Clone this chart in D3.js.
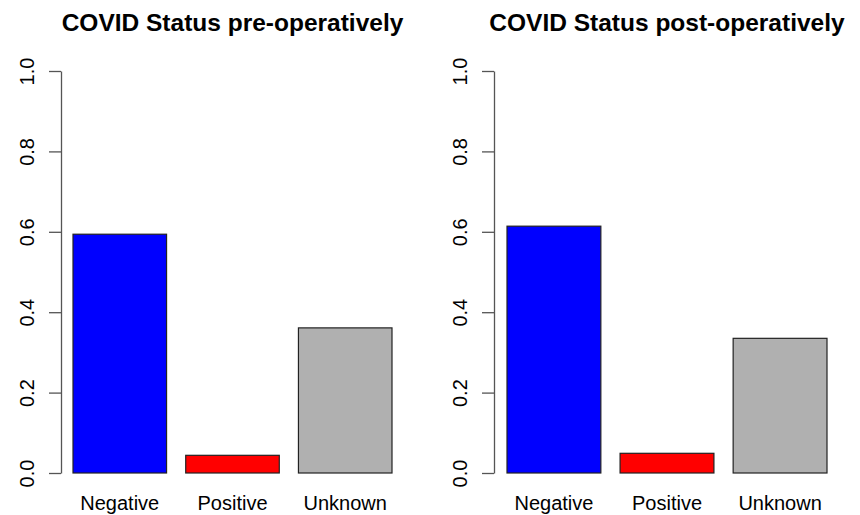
<!DOCTYPE html>
<html>
<head>
<meta charset="utf-8">
<script src="https://cdn.jsdelivr.net/npm/d3@7"></script>
<style>
  html, body { margin: 0; padding: 0; background: #fff; }
  svg { display: block; }
  text { font-family: "Liberation Sans", Arial, Helvetica, sans-serif; fill: #000; }
</style>
</head>
<body>
<svg id="chart" width="860" height="515"></svg>
<script>
const categories = ["Negative", "Positive", "Unknown"];
const preValues = [0.594, 0.044, 0.361];
const postValues = [0.614, 0.049, 0.335];
const titles = ["COVID Status pre-operatively", "COVID Status post-operatively"];
const barColors = ["#0000FF", "#FF0000", "#B0B0B0"];
const yTicks = [0, 0.2, 0.4, 0.6, 0.8, 1.0];

const svg = d3.select("#chart");

const panels = [
  { title: titles[0], values: preValues, axisX: 61, barRange: [73, 392] },
  { title: titles[1], values: postValues, axisX: 494, barRange: [507, 827] }
];

const y = d3.scaleLinear().domain([0, 1]).range([473, 71]);
const color = d3.scaleOrdinal().domain(categories).range(barColors);

panels.forEach(p => {
  const g = svg.append("g");
  const x = d3.scaleBand().domain(categories).range(p.barRange).paddingInner(0.17).paddingOuter(0);

  // Bars
  g.selectAll("rect.bar")
    .data(categories.map((c, i) => ({ c, v: p.values[i] })))
    .join("rect")
    .attr("class", "bar")
    .attr("x", d => x(d.c))
    .attr("y", d => y(d.v))
    .attr("width", x.bandwidth())
    .attr("height", d => y(0) - y(d.v))
    .attr("fill", d => color(d.c))
    .attr("stroke", "#222")
    .attr("stroke-width", 1.2);

  // Y axis
  const axis = d3.axisLeft(y).tickValues(yTicks).tickSize(12).tickSizeOuter(0).tickFormat(d3.format(".1f"));
  const ag = g.append("g").attr("transform", `translate(${p.axisX},0)`).call(axis);
  ag.select(".domain").attr("stroke", "#555").attr("stroke-width", 1.3);
  ag.selectAll(".tick line").attr("stroke", "#555").attr("stroke-width", 1.3);
  ag.selectAll(".tick text")
    .attr("x", null).attr("dy", null)
    .attr("text-anchor", "middle")
    .attr("transform", "translate(-27,0) rotate(-90)")
    .style("font-size", "20px")
    .style("font-family", "'Liberation Sans', Arial, sans-serif")
    .attr("fill", "#000");

  // Category labels
  g.selectAll("text.cat")
    .data(categories)
    .join("text")
    .attr("class", "cat")
    .attr("x", d => x(d) + x.bandwidth() / 2)
    .attr("y", 510)
    .attr("text-anchor", "middle")
    .style("font-size", "20px")
    .text(d => d);

  // Title
  g.append("text")
    .attr("x", (p.barRange[0] + p.barRange[1]) / 2)
    .attr("y", 31)
    .attr("text-anchor", "middle")
    .style("font-size", "24.5px")
    .style("font-weight", "bold")
    .text(p.title);
});
</script>
</body>
</html>
